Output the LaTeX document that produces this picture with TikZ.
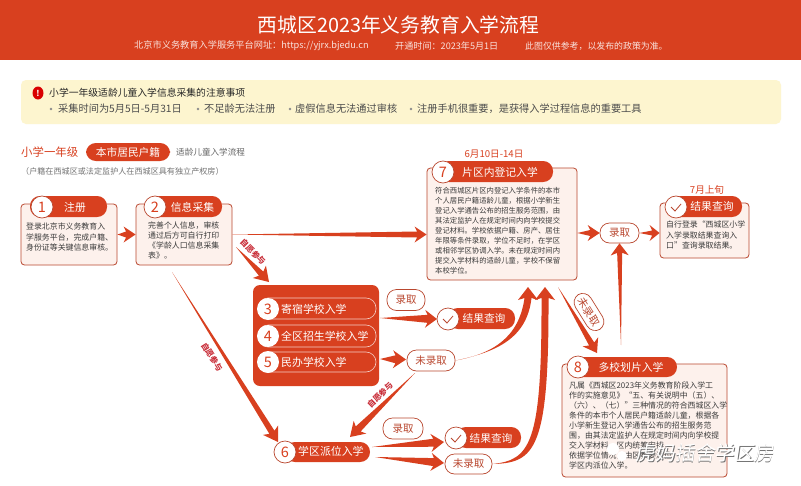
\documentclass[tikz,border=0pt]{standalone}
\usepackage{fontspec}
\setmainfont{Noto Sans CJK SC}
\usetikzlibrary{calc,shapes.geometric}

\definecolor{flowred}{HTML}{D8401F}
\definecolor{edgered}{HTML}{B9472F}
\definecolor{palered}{HTML}{FDF1EC}
\definecolor{paleyel}{HTML}{FDF5CF}
\definecolor{tagred}{HTML}{C92F3A}
\definecolor{bodygray}{HTML}{3A3A3A}

\newcommand{\fs}[2]{\fontsize{#1}{#2}\selectfont}

% from, to, head length, head half width, neck half width
\newcommand{\taper}[5]{
	\coordinate (hb) at ($(#2)!#3!(#1)$);
	\coordinate (nk) at ($(#2)!#3-2.5pt!(#1)$);
	\fill[flowred] (#1) -- ($(nk)!#5!90:(#2)$) -- ($(hb)!#4!90:(#2)$) -- (#2)
		-- ($(hb)!#4!-90:(#2)$) -- ($(nk)!#5!-90:(#2)$) -- cycle;
}

\tikzset{
	body/.style={draw=edgered, line width=0.8pt, fill=palered, rounded corners=3.5pt, inner sep=0pt},
	tab/.style={fill=flowred, rounded corners=9.9pt, inner sep=0pt},
	num/.style={circle, draw=edgered, line width=0.7pt, fill=white, text=flowred, minimum size=22pt, inner sep=0pt, font=\fs{14.5}{15}},
	wnum/.style={circle, fill=white, text=flowred, minimum size=22pt, inner sep=0pt, font=\fs{14.5}{15}},
	tabtext/.style={text=white, inner sep=0pt, font=\fs{10.8}{12}},
	para/.style={text=bodygray, align=left, inner sep=0pt, anchor=north west},
	tag/.style={draw=edgered, line width=0.7pt, fill=white, text=edgered, rounded corners=9.5pt, inner sep=0pt, font=\fs{10.5}{11}},
	will/.style={text=tagred, inner sep=0pt, font=\fs{8}{8}\bfseries},
	note/.style={inner sep=0pt, anchor=west},
	rowline/.style={draw=white!75!flowred, line width=0.6pt, rounded corners=10pt, inner sep=0pt, minimum width=118pt},
	tick/.style={draw=edgered, line width=0.8pt}
}

\begin{document}
\begin{tikzpicture}[x=1pt,y=-1pt]
	\useasboundingbox (0,0) rectangle (801,485);
	\fill[white] (0,0) rectangle (801,485);

	% header
	\fill[flowred] (0,0) rectangle (801,60);
	\node[text=white, inner sep=0pt, font=\fs{19.8}{20}] (title) at (398.5,25) {西城区2023年义务教育入学流程};
	\node[note, text=white!85!flowred, font=\fs{9.2}{9}] (site) at (134,46) {北京市义务教育入学服务平台网址：https://yjrx.bjedu.cn};
	\node[note, text=white!85!flowred, font=\fs{9.1}{9}] (open) at (395,46) {开通时间：2023年5月1日};
	\node[note, text=white!85!flowred, font=\fs{8.9}{9}] (only) at (525,46) {此图仅供参考，以发布的政策为准。};

	% notice
	\node[fill=paleyel, rounded corners=5pt, minimum width=760pt, minimum height=44pt, inner sep=0pt] (notice) at (401,102) {};
	\node[ellipse, fill=red!85!black, text=white, minimum width=11pt, minimum height=13pt, inner sep=0pt, font=\fs{8}{8}\bfseries] (alert) at (38,93) {!};
	\node[note, text=black!85, font=\fs{9.8}{10}] (notehead) at (49,93) {小学一年级适龄儿童入学信息采集的注意事项};
	\node[note, text=black!70, font=\fs{10.2}{11}] (n1) at (58,109) {采集时间为5月5日-5月31日};
	\node[note, text=black!70, font=\fs{10.2}{11}] (n2) at (204,109) {不足龄无法注册};
	\node[note, text=black!70, font=\fs{10.2}{11}] (n3) at (295,109) {虚假信息无法通过审核};
	\node[note, text=black!70, font=\fs{10.2}{11}] (n4) at (417,109) {注册手机很重要，是获得入学过程信息的重要工具};
	\foreach \x in {51,198,290,411} \fill[black!45] (\x,109) circle (1.3pt);

	% heading
	\node[note, text=flowred, font=\fs{11.4}{12}] (grade) at (21,152) {小学一年级};
	\node[tab, text=white, minimum width=84pt, minimum height=18pt, font=\fs{10.7}{11}] (huji) at (128,152) {本市居民户籍};
	\node[note, text=black!60, font=\fs{8.6}{9}] (flowname) at (176,152) {适龄儿童入学流程};
	\node[note, text=black!55, font=\fs{8.1}{8}] (hint) at (21,171) {（户籍在西城区或法定监护人在西城区具有独立产权房）};

	% 1
	\node[body, minimum width=96pt, minimum height=61pt] (box1) at (69,234.5) {};
	\node[tab, minimum width=77pt, minimum height=21pt] (tab1) at (68.5,206.5) {};
	\node[num] (c1) at (42,207) {1};
	\node[tabtext] (t1) at (75,207) {注册};
	\node[para, font=\fs{7.9}{10.2}] (p1) at (26,223) {登录北京市义务教育入\\学服务平台，完成户籍、\\身份证等关键信息审核。};

	% 2
	\node[body, minimum width=96pt, minimum height=61pt] (box2) at (184,234.5) {};
	\node[tab, minimum width=76pt, minimum height=21pt] (tab2) at (184,206.5) {};
	\node[num] (c2) at (155,207) {2};
	\node[tabtext] (t2) at (192.5,207) {信息采集};
	\node[para, font=\fs{7.9}{10}] (p2) at (148,222) {完善个人信息，审核\\通过后方可自行打印\\《学龄人口信息采集\\表》。};

	% 7
	\node[body, minimum width=150pt, minimum height=112pt] (box7) at (502,224) {};
	\node[tab, minimum width=114pt, minimum height=21pt] (tab7) at (496,171.5) {};
	\node[num] (c7) at (443,172) {7};
	\node[tabtext] (t7) at (500,172) {片区内登记入学};
	\node[text=flowred, inner sep=0pt, font=\fs{9.6}{10}] (d7) at (494,154) {6月10日-14日};
	\node[para, font=\fs{7.35}{10}] (p7) at (435,187) {符合西城区片区内登记入学条件的本市\\个人居民户籍适龄儿童，根据小学新生\\登记入学通告公布的招生服务范围，由\\其法定监护人在规定时间内向学校提交\\登记材料。学校依据户籍、房产、居住\\年限等条件录取，学位不足时，在学区\\或相邻学区协调入学。未在规定时间内\\提交入学材料的适龄儿童，学校不保留\\本校学位。};

	% result of 7
	\node[tag, minimum width=39pt, minimum height=20pt] (ok7) at (619.5,233) {录取};
	\node[body, minimum width=89pt, minimum height=55pt] (box9) at (704.5,230.5) {};
	\node[tab, minimum width=76pt, minimum height=21pt] (tab9) at (704,206.5) {};
	\node[num] (c9) at (676,207) {};
	\node[tabtext] (t9) at (712,206.5) {结果查询};
	\node[text=flowred, inner sep=0pt, font=\fs{9.6}{10}] (d9) at (707,190) {7月上旬};
	\node[para, font=\fs{7.9}{10.3}] (p9) at (666,221) {自行登录“西城区小学\\入学录取结果查询入\\口”查询录取结果。};

	% 8
	\node[body, minimum width=165pt, minimum height=113pt] (box8) at (644.5,420.5) {};
	\node[tab, minimum width=110pt, minimum height=20pt] (tab8) at (622,367) {};
	\node[num] (c8) at (578,367) {8};
	\node[tabtext] (t8) at (631,367) {多校划片入学};
	\node[para, font=\fs{7.9}{10}] (p8) at (569,382) {凡属《西城区2023年义务教育阶段入学工\\作的实施意见》“五、有关说明中（五）、\\（六）、（七）”三种情况的符合西城区入学\\条件的本市个人居民户籍适龄儿童，根据各\\小学新生登记入学通告公布的招生服务范\\围，由其法定监护人在规定时间内向学校提\\交入学材料。区内统筹安排，\\依据学位情况，由区教委派位，\\学区内派位入学。};

	% 3 4 5
	\node[fill=flowred, rounded corners=7pt, minimum width=126pt, minimum height=101pt, inner sep=0pt] (block) at (316,335.5) {};
	\node[rowline, minimum height=21pt] (r3) at (317,308.5) {};
	\node[rowline, minimum height=22pt] (r4) at (317,336) {};
	\node[rowline, minimum height=20pt] (r5) at (317,362) {};
	\node[wnum] (c3) at (268,309) {3};
	\node[wnum] (c4) at (268,336) {4};
	\node[wnum] (c5) at (268,362) {5};
	\node[note, text=white, font=\fs{10.9}{11}] (t3) at (281,309) {寄宿学校入学};
	\node[note, text=white, font=\fs{10.9}{11}] (t4) at (281,336) {全区招生学校入学};
	\node[note, text=white, font=\fs{10.9}{11}] (t5) at (281,362) {民办学校入学};

	\node[tag, minimum width=38pt, minimum height=21pt] (ok3) at (406,300) {录取};
	\node[tab, minimum width=67pt, minimum height=21pt] (res3) at (481.5,318.5) {};
	\node[num] (cr3) at (448,319) {};
	\node[tabtext, font=\fs{10.7}{11}] (tr3) at (484,318) {结果查询};
	\node[tag, minimum width=48pt, minimum height=21pt] (no3) at (431,360.5) {未录取};

	% 6
	\node[tab, minimum width=85pt, minimum height=20pt] (tab6) at (327.5,452) {};
	\node[num] (c6) at (285,452) {6};
	\node[note, text=white, font=\fs{10.9}{11}] (t6) at (298,451.5) {学区派位入学};
	\node[tag, minimum width=40pt, minimum height=21pt] (ok6) at (403,428.5) {录取};
	\node[tab, minimum width=65pt, minimum height=21pt] (res6) at (488.5,437.5) {};
	\node[num] (cr6) at (456,438) {};
	\node[tabtext, font=\fs{10.7}{11}] (tr6) at (491,438) {结果查询};
	\node[tag, minimum width=47pt, minimum height=20pt] (no6) at (468.5,464) {未录取};

	\foreach \c in {c9,cr3,cr6}
		\draw[tick] ([shift={(-5,0)}]\c.center) -- ([shift={(-1,4)}]\c.center) -- ([shift={(5,-3)}]\c.center);

	% arrow ends
	\coordinate (in7) at (box7.west |- box2.east);
	\coordinate (out7b) at (box7.east |- ok7.west);
	\coordinate (in9) at (box9.west |- ok7.east);
	\coordinate (out2a) at (236,247);
	\coordinate (in3) at (269,282);
	\coordinate (out2b) at (172,272);
	\coordinate (in6a) at (278,442);
	\coordinate (out7) at (558,287);
	\coordinate (in8) at (597,353);
	\coordinate (out3) at (380,318);
	\coordinate (in3r) at (437,319);
	\coordinate (out5) at (380,359);
	\coordinate (in5n) at (406,359.5);
	\coordinate (out5n) at (415,373);
	\coordinate (in6b) at (350,437);
	\coordinate (out6a) at (372,447);
	\coordinate (in6r) at (444,442);
	\coordinate (out6b) at (375,457);
	\coordinate (in6n) at (444,463);
	\coordinate (upfoot) at (621,345);
	\coordinate (uptip) at (ok7.south);
	\coordinate (tipa) at (528,287);
	\coordinate (tipb) at (545,287);

	% arrows
	\taper{box1.east}{box2.west}{12pt}{8pt}{3pt}
	\taper{box2.east}{in7}{12pt}{8pt}{3pt}
	\taper{out7b}{ok7.west}{12pt}{8pt}{3pt}
	\taper{ok7.east}{in9}{10pt}{8pt}{2.5pt}
	\taper{upfoot}{uptip}{12pt}{9pt}{2.5pt}
	\taper{out7}{in8}{13pt}{9pt}{3pt}
	\taper{out2a}{in3}{14pt}{9pt}{3pt}
	\taper{out2b}{in6a}{14pt}{9pt}{3pt}
	\taper{out3}{in3r}{12pt}{9pt}{4pt}
	\taper{out5}{in5n}{13pt}{9pt}{4pt}
	\taper{out5n}{in6b}{14pt}{9pt}{3.5pt}
	\taper{out6a}{in6r}{13pt}{9pt}{4pt}
	\taper{out6b}{in6n}{13pt}{9pt}{4pt}

	% curved arrows up to 7
	\fill[flowred] (no3.east) .. controls (492,354) and (519,338) .. (524.5,298)
		-- (518,300) -- (tipa) -- (538,300) -- (531.5,298)
		.. controls (527,338) and (497,352) .. (no3.east) -- cycle;
	\fill[flowred] (no6.east) .. controls (530,460) and (542,445) .. (541.5,298)
		-- (535,300) -- (tipb) -- (555,300) -- (548.5,298)
		.. controls (549,450) and (535,463) .. (no6.east) -- cycle;

	% labels on arrows
	\node[tag, minimum width=41pt, minimum height=18pt, rotate=-58] (no7) at (589,312) {未录取};
	\node[will, rotate=-45] (w1) at (253,252) {自愿参与};
	\node[will, rotate=-58] (w2) at (212,357) {自愿参与};
	\node[will, rotate=45] (w3) at (380,395) {自愿参与};

	% watermark
	\fill[white] (613,449) circle (6pt) (622,456) circle (5pt);
	\node[text=black!55, inner sep=0pt, xslant=0.15, font=\fs{19.7}{20}] (markshade) at (706.6,453.6) {虎妈插舍学区房};
	\node[text=white, inner sep=0pt, xslant=0.15, font=\fs{19.7}{20}] (mark) at (706,453) {虎妈插舍学区房};
\end{tikzpicture}
\end{document}
